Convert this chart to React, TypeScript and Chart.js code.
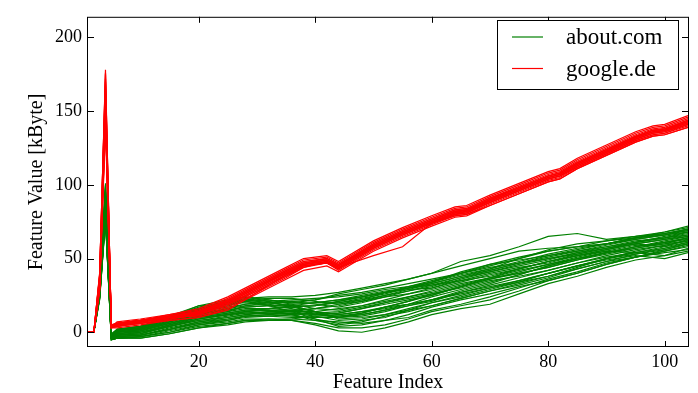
import React, { useEffect, useRef } from "react";
import { Chart, registerables } from "chart.js";

Chart.register(...registerables);

// Feature index knots for each family of traces
const redX = [1, 2, 3, 4, 5, 6, 10, 15, 20, 25, 30, 35, 38, 42, 44, 50, 55, 60, 64, 66, 70, 75, 80, 82, 85, 90, 95, 98, 100, 104];
const greenX = [1, 2, 3, 4, 5, 6, 10, 15, 20, 25, 28, 32, 36, 40, 44, 48, 52, 56, 60, 65, 70, 75, 80, 85, 90, 95, 100, 104];

// google.de traces (kByte)
const googleSeries = [
  [0, 0, 38, 178, 3, 5, 7, 10, 13, 21, 31, 41, 47, 49, 45, 59, 68, 76, 82, 83, 90, 98, 106, 108, 115, 124, 133, 137, 138, 143],
  [0, 0, 33, 165, 4, 6, 8, 11, 14, 22, 32, 42, 48, 50, 46, 60, 69, 77, 83, 84, 91, 99, 107, 109, 116, 125, 134, 138, 139, 145],
  [0, 0, 30, 150, 5, 5, 7, 10, 12, 19, 29, 39, 45, 47, 43, 57, 66, 74, 80, 81, 88, 96, 104, 106, 113, 122, 131, 135, 136, 141],
  [0, 0, 28, 140, 4, 4, 6, 9, 12, 18, 28, 38, 44, 47, 42, 56, 65, 73, 79, 80, 87, 95, 103, 105, 112, 121, 130, 134, 135, 140],
  [0, 0, 40, 172, 3, 6, 8, 12, 15, 23, 33, 43, 49, 51, 47, 61, 70, 78, 84, 85, 92, 100, 108, 110, 117, 126, 135, 139, 140, 146],
  [0, 0, 32, 158, 5, 5, 7, 10, 11, 17, 27, 37, 44, 48, 44, 52, 58, 74, 80, 81, 88, 96, 104, 106, 113, 122, 131, 135, 136, 141],
  [0, 0, 29, 145, 4, 5, 6, 8, 10, 15, 27, 39, 46, 48, 44, 58, 67, 75, 81, 82, 89, 97, 105, 107, 114, 123, 132, 136, 137, 142],
  [0, 0, 35, 162, 4, 6, 8, 11, 14, 21, 31, 41, 47, 49, 45, 59, 68, 76, 82, 83, 89, 97, 105, 107, 114, 123, 132, 136, 137, 143],
  [0, 0, 31, 155, 3, 4, 7, 10, 13, 20, 30, 40, 46, 48, 44, 58, 67, 75, 80, 82, 88, 96, 104, 106, 113, 122, 131, 135, 136, 142],
  [0, 0, 36, 168, 5, 6, 8, 11, 14, 21, 31, 40, 46, 49, 45, 59, 68, 76, 82, 83, 90, 98, 106, 108, 115, 124, 133, 137, 138, 144],
  [0, 0, 30, 148, 4, 5, 7, 9, 12, 19, 29, 39, 45, 47, 43, 57, 66, 74, 79, 80, 86, 94, 102, 104, 111, 120, 129, 133, 134, 139],
  [0, 0, 39, 176, 4, 5, 7, 10, 13, 20, 30, 40, 46, 48, 44, 58, 67, 75, 81, 82, 89, 97, 105, 107, 114, 123, 132, 136, 137, 143],
  [0, 0, 35, 160, 4, 7, 9, 12, 16, 24, 34, 44, 50, 52, 48, 62, 71, 79, 85, 86, 93, 101, 109, 111, 118, 127, 136, 140, 141, 147],
  [0, 0, 30, 142, 3, 3, 5, 8, 10, 16, 26, 36, 42, 45, 41, 55, 64, 72, 78, 79, 86, 94, 102, 104, 111, 120, 129, 133, 134, 139],
  [0, 0, 38, 170, 5, 6, 8, 11, 14, 22, 32, 42, 48, 50, 46, 60, 69, 77, 83, 84, 91, 98, 106, 108, 115, 124, 133, 137, 138, 144],
  [0, 0, 33, 152, 4, 5, 7, 10, 13, 20, 30, 40, 46, 49, 45, 58, 67, 75, 81, 83, 89, 97, 105, 107, 114, 123, 132, 136, 137, 142],
  [0, 0, 40, 175, 4, 6, 8, 11, 13, 21, 31, 41, 47, 50, 46, 59, 68, 76, 82, 83, 90, 98, 106, 108, 115, 124, 133, 137, 138, 143],
  [0, 0, 31, 146, 3, 4, 6, 9, 12, 19, 28, 38, 45, 47, 43, 57, 66, 74, 80, 81, 88, 96, 104, 106, 112, 121, 130, 134, 135, 141],
];

// about.com traces (kByte)
const aboutSeries = [
  [0, 0, 30, 100, -2, 1, 3, 10, 18, 22, 24, 21, 17, 14, 12, 14, 17, 19, 22, 28, 33, 39, 45, 50, 54, 57, 60, 62],
  [0, 0, 28, 92, -3, 0, 2, 9, 16, 20, 23, 24, 24, 25, 27, 30, 33, 36, 40, 48, 52, 58, 65, 67, 63, 65, 68, 71],
  [0, 0, 23, 78, -5, -4, -4, -1, 3, 6, 8, 9, 8, 5, 1, 0, 3, 7, 12, 16, 19, 26, 33, 38, 44, 49, 52, 55],
  [0, 0, 26, 85, -3, -1, 0, 5, 10, 13, 15, 16, 17, 18, 21, 24, 27, 29, 30, 35, 40, 44, 47, 52, 56, 60, 63, 66],
  [0, 0, 29, 95, -2, 2, 3, 9, 15, 20, 22, 20, 18, 14, 10, 11, 14, 18, 22, 27, 31, 35, 40, 45, 49, 52, 50, 54],
  [0, 0, 25, 82, -4, -2, -1, 4, 8, 10, 12, 13, 14, 16, 19, 22, 27, 31, 35, 40, 45, 50, 55, 58, 60, 64, 67, 70],
  [0, 0, 24, 80, -4, -3, -2, 2, 6, 8, 10, 11, 12, 13, 14, 17, 20, 23, 26, 30, 35, 38, 42, 47, 51, 54, 57, 60],
  [0, 0, 28, 96, -2, 1, 3, 11, 18, 19, 20, 18, 16, 12, 13, 16, 20, 24, 28, 33, 37, 40, 44, 49, 54, 58, 61, 64],
  [0, 0, 27, 88, -3, 0, 1, 7, 12, 16, 18, 19, 21, 22, 25, 27, 30, 33, 36, 40, 44, 47, 50, 53, 57, 61, 64, 68],
  [0, 0, 22, 76, -5, -4, -3, 0, 5, 7, 9, 9, 9, 8, 7, 6, 8, 10, 15, 19, 24, 30, 36, 41, 47, 51, 55, 58],
  [0, 0, 29, 98, -2, 2, 4, 10, 14, 17, 19, 20, 20, 22, 26, 29, 32, 36, 40, 45, 50, 55, 57, 58, 60, 64, 68, 72],
  [0, 0, 25, 84, -4, -2, -1, 5, 9, 12, 14, 13, 12, 9, 6, 8, 10, 15, 20, 25, 30, 35, 40, 45, 50, 53, 56, 60],
  [0, 0, 26, 87, -3, -1, 1, 6, 11, 14, 16, 16, 15, 16, 18, 21, 24, 26, 29, 34, 39, 43, 48, 52, 56, 60, 58, 63],
  [0, 0, 24, 79, -4, -3, -2, 3, 7, 9, 11, 11, 10, 10, 11, 12, 15, 19, 24, 29, 34, 39, 45, 50, 54, 58, 62, 65],
  [0, 0, 30, 101, -1, 2, 4, 11, 16, 20, 22, 20, 18, 14, 9, 10, 12, 15, 18, 23, 28, 33, 38, 44, 50, 55, 59, 62],
  [0, 0, 23, 77, -5, -4, -3, 0, 4, 6, 8, 8, 9, 11, 12, 14, 16, 19, 22, 26, 30, 34, 38, 43, 48, 51, 54, 56],
  [0, 0, 27, 90, -3, 0, 2, 8, 13, 15, 17, 18, 19, 20, 22, 24, 27, 30, 33, 38, 42, 47, 52, 55, 58, 62, 64, 66],
  [0, 0, 26, 86, -3, -1, 1, 6, 10, 12, 14, 16, 18, 20, 22, 25, 28, 30, 32, 35, 38, 43, 48, 52, 55, 54, 52, 57],
  [0, 0, 24, 81, -4, -2, -1, 4, 8, 11, 13, 14, 14, 9, 4, 5, 8, 12, 17, 22, 26, 31, 35, 40, 46, 51, 56, 60],
  [0, 0, 29, 94, -2, 1, 3, 10, 17, 21, 24, 22, 20, 20, 20, 23, 26, 30, 34, 40, 46, 51, 55, 58, 62, 65, 67, 69],
  [0, 0, 25, 83, -4, -2, -1, 4, 9, 12, 13, 13, 13, 12, 11, 13, 17, 21, 26, 31, 36, 41, 46, 50, 54, 58, 61, 64],
  [0, 0, 27, 89, -3, 0, 2, 7, 12, 15, 17, 18, 18, 18, 20, 22, 25, 28, 31, 37, 42, 47, 51, 55, 59, 63, 66, 70],
  [0, 0, 28, 92, -3, 0, 2, 8, 14, 18, 21, 22, 19, 16, 15, 18, 22, 26, 30, 36, 41, 46, 50, 54, 58, 61, 64, 67],
  [0, 0, 25, 80, -4, -3, -2, 2, 7, 10, 12, 14, 15, 13, 10, 12, 15, 18, 21, 27, 32, 37, 42, 47, 52, 56, 59, 62],
  [0, 0, 30, 97, -2, 1, 3, 9, 15, 18, 21, 19, 17, 18, 21, 24, 27, 30, 34, 39, 43, 48, 53, 57, 60, 63, 66, 69],
  [0, 0, 24, 79, -5, -4, -3, 1, 5, 8, 11, 12, 13, 11, 8, 9, 12, 16, 20, 24, 29, 34, 40, 45, 50, 54, 58, 61],
  [0, 0, 27, 86, -3, -1, 1, 6, 11, 14, 18, 20, 21, 19, 17, 20, 24, 28, 32, 37, 41, 45, 49, 54, 57, 60, 63, 65],
  [0, 0, 26, 83, -4, -2, 0, 4, 9, 12, 14, 15, 12, 8, 5, 7, 11, 14, 18, 23, 28, 32, 37, 43, 48, 53, 57, 61],
  [0, 0, 29, 99, -2, 2, 4, 10, 16, 19, 22, 23, 23, 21, 19, 21, 25, 29, 33, 38, 43, 50, 56, 60, 62, 64, 66, 68],
  [0, 0, 25, 81, -4, -3, -2, 2, 6, 9, 11, 12, 11, 10, 10, 13, 17, 21, 25, 31, 36, 40, 44, 49, 53, 57, 61, 63],
  [0, 0, 27, 90, -3, 0, 2, 7, 13, 16, 19, 21, 22, 23, 24, 26, 29, 31, 34, 41, 46, 49, 52, 56, 60, 64, 67, 70],
  [0, 0, 23, 77, -5, -4, -4, -1, 3, 5, 7, 8, 8, 6, 3, 3, 5, 9, 14, 18, 22, 28, 35, 40, 46, 51, 55, 59],
  [0, 0, 28, 95, -2, 1, 3, 9, 15, 19, 21, 18, 14, 12, 13, 16, 19, 22, 25, 31, 37, 43, 48, 53, 57, 61, 65, 68],
  [0, 0, 26, 84, -3, -2, 0, 5, 10, 13, 15, 15, 14, 14, 16, 18, 21, 24, 27, 32, 37, 42, 46, 51, 55, 59, 60, 64],
];

const legendLabels = ["about.com", "google.de"];
const xTicks = [20, 40, 60, 80, 100];
const yTicks = [0, 50, 100, 150, 200];
const xRange = [1, 104];
const yRange = [-10, 214];

const GREEN = "#008000";
const RED = "#ff0000";
const FONT = "'Liberation Serif', 'Times New Roman', serif";

const framePlugin = {
  id: "mplFrame",
  afterDatasetsDraw(chart: any) {
    const { ctx, chartArea: a, scales } = chart;
    ctx.save();
    ctx.strokeStyle = "#000";
    ctx.lineWidth = 1;
    ctx.beginPath();
    for (const v of xTicks) {
      const px = Math.round(scales.x.getPixelForValue(v)) + 0.5;
      ctx.moveTo(px, a.bottom);
      ctx.lineTo(px, a.bottom - 6);
      ctx.moveTo(px, a.top);
      ctx.lineTo(px, a.top + 6);
    }
    for (const v of yTicks) {
      const py = Math.round(scales.y.getPixelForValue(v)) + 0.5;
      ctx.moveTo(a.left, py);
      ctx.lineTo(a.left + 6, py);
      ctx.moveTo(a.right, py);
      ctx.lineTo(a.right - 6, py);
    }
    ctx.stroke();
    ctx.strokeRect(a.left - 0.5, a.top + 0.5, a.right - a.left + 1, a.bottom - a.top - 1);

    // legend box (upper right, inside axes)
    const bx = 497.5, by = 20.5, bw = 181, bh = 69;
    ctx.fillStyle = "#fff";
    ctx.fillRect(bx, by, bw, bh);
    ctx.strokeRect(bx, by, bw, bh);
    const rows = [
      { label: legendLabels[0], color: GREEN, y: 37 },
      { label: legendLabels[1], color: RED, y: 68.5 },
    ];
    ctx.font = `23px ${FONT}`;
    ctx.textBaseline = "middle";
    ctx.textAlign = "left";
    for (const r of rows) {
      ctx.strokeStyle = r.color;
      ctx.lineWidth = 1.2;
      ctx.beginPath();
      ctx.moveTo(512, r.y);
      ctx.lineTo(543, r.y);
      ctx.stroke();
      ctx.fillStyle = "#000";
      ctx.fillText(r.label, 566, r.y + 1);
    }
    ctx.restore();
  },
};

export default function App() {
  const canvasRef = useRef<HTMLCanvasElement | null>(null);

  useEffect(() => {
    if (!canvasRef.current) return;
    Chart.defaults.font.family = FONT;
    Chart.defaults.color = "#000";

    const greenSets = aboutSeries.map((s, i) => ({
      label: `${legendLabels[0]} ${i + 1}`,
      data: s.map((v, j) => ({ x: greenX[j], y: v })),
      borderColor: GREEN,
      borderWidth: 1.2,
      pointRadius: 0,
      fill: false,
      tension: 0,
      order: 2,
    }));
    const redSets = googleSeries.map((s, i) => ({
      label: `${legendLabels[1]} ${i + 1}`,
      data: s.map((v, j) => ({ x: redX[j], y: v })),
      borderColor: RED,
      borderWidth: 1.2,
      pointRadius: 0,
      fill: false,
      tension: 0,
      order: 1,
    }));

    const chart = new Chart(canvasRef.current, {
      type: "line",
      data: { datasets: [...greenSets, ...redSets] as any },
      plugins: [framePlugin],
      options: {
        animation: false,
        responsive: false,
        layout: { padding: { left: 0, top: 9, right: 10, bottom: 0 } },
        plugins: { legend: { display: false }, tooltip: { enabled: false } },
        scales: {
          x: {
            type: "linear",
            min: xRange[0],
            max: xRange[1],
            grid: { display: false, drawTicks: false },
            border: { display: false },
            afterBuildTicks: (s: any) => {
              s.ticks = xTicks.map((v) => ({ value: v }));
            },
            afterFit: (s: any) => {
              s.height = 46;
            },
            ticks: { font: { size: 18 }, padding: 4, maxRotation: 0, color: "#000" },
            title: {
              display: true,
              text: "Feature Index",
              font: { size: 20, lineHeight: 1 },
              padding: { top: 0, bottom: 0 },
              color: "#000",
            },
          },
          y: {
            type: "linear",
            min: yRange[0],
            max: yRange[1],
            grid: { display: false, drawTicks: false },
            border: { display: false },
            afterBuildTicks: (s: any) => {
              s.ticks = yTicks.map((v) => ({ value: v }));
            },
            afterFit: (s: any) => {
              s.width = 88;
            },
            ticks: { font: { size: 18 }, padding: 6, color: "#000" },
            title: {
              display: true,
              text: "Feature Value [kByte]",
              font: { size: 20, lineHeight: 1 },
              padding: { top: 27, bottom: 0 },
              color: "#000",
            },
          },
        },
      },
    });
    return () => chart.destroy();
  }, []);

  return (
    <div style={{ position: "fixed", left: 0, top: 0, width: 698, height: 393, background: "#fff" }}>
      <canvas ref={canvasRef} width={698} height={393} style={{ display: "block" }} />
    </div>
  );
}
